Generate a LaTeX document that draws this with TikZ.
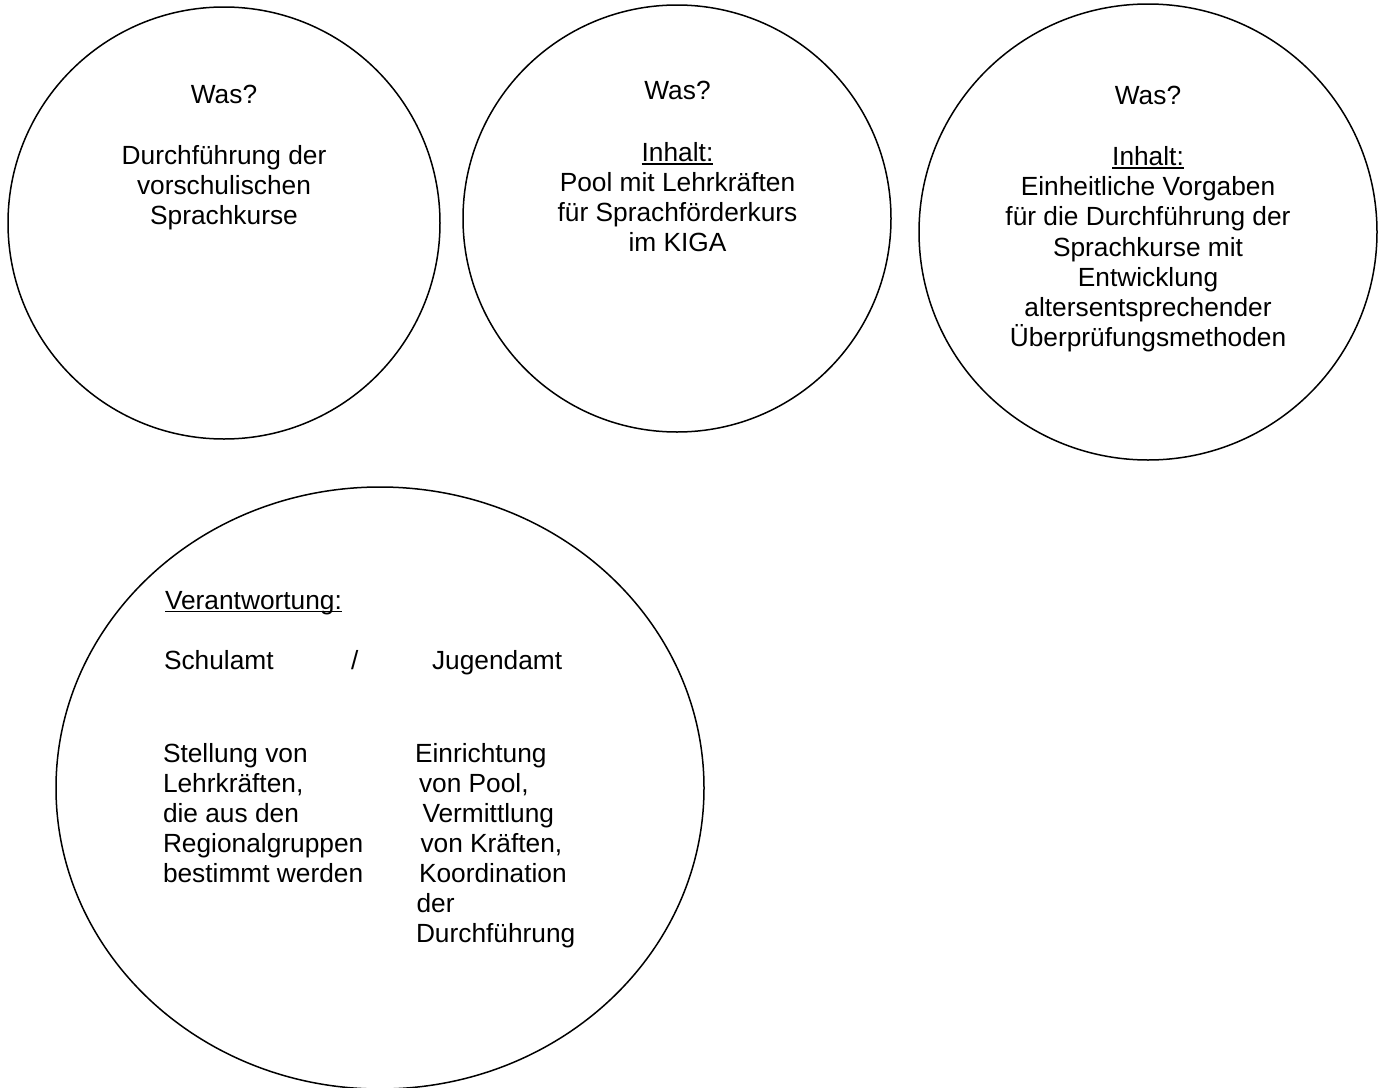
\documentclass[tikz,border=0pt]{standalone}
\usepackage{fontspec}
\setmainfont{Liberation Sans}
\usetikzlibrary{shapes.geometric}
\newcommand\ulbox[1]{\setbox0=\hbox{#1}\rlap{\rule[-3.3pt]{\wd0}{1.5pt}}\box0}
\tikzset{
  bubble/.style={ellipse, draw=black, line width=1.5pt, inner sep=0pt, outer sep=0pt},
  txt/.style={anchor=base, inner sep=0pt, outer sep=0pt, font=\fontsize{26.3pt}{30.3pt}\selectfont},
  txtl/.style={txt, anchor=base west}
}
\begin{document}
\begin{tikzpicture}[x=1pt, y=-1pt]
\useasboundingbox (0,0) rectangle (1384,1087);
\clip (0,0) rectangle (1384,1087);
% circles
\node[bubble, minimum width=432pt, minimum height=432pt] (c1) at (224,223) {};
\node[bubble, minimum width=428pt, minimum height=427pt] (c2) at (677,218.5) {};
\node[bubble, minimum width=458pt, minimum height=456pt] (c3) at (1148,232) {};
\node[bubble, minimum width=648pt, minimum height=602pt] (c4) at (380,788) {};
% circle 1
\node[txt] (a1) at (224,103.3) {Was?};
\node[txt] (a2) at (224,164) {Durchführung der};
\node[txt] (a3) at (224,194.5) {vorschulischen};
\node[txt] (a4) at (224,224.8) {Sprachkurse};
% circle 2
\node[txt] (b1) at (677.5,99.5) {Was?};
\node[txt] (b2) at (677.5,161.5) {\ulbox{Inhalt:}};
\node[txt] (b3) at (677.5,191.7) {Pool mit Lehrkräften};
\node[txt] (b4) at (677.5,221.8) {für Sprachförderkurs};
\node[txt] (b5) at (677.5,251.8) {im KIGA};
% circle 3
\node[txt] (d1) at (1148,104) {Was?};
\node[txt] (d2) at (1148,165.5) {\ulbox{Inhalt:}};
\node[txt] (d3) at (1148,195.7) {Einheitliche Vorgaben};
\node[txt] (d4) at (1148,225.9) {für die Durchführung der};
\node[txt] (d5) at (1148,256.1) {Sprachkurse mit};
\node[txt] (d6) at (1148,286.3) {Entwicklung};
\node[txt] (d7) at (1148,316.5) {altersentsprechender};
\node[txt] (d8) at (1148,346.7) {Überprüfungsmethoden};
% bottom circle
\node[txtl] (e0) at (165,609) {\ulbox{Verantwortung:}};
\node[txtl] (e1) at (164,669) {Schulamt};
\node[txtl] (e2) at (351,669) {/};
\node[txtl] (e3) at (432,669) {Jugendamt};
\node[txtl] (l1) at (163,762) {Stellung von};
\node[txtl] (l2) at (163,792) {Lehrkräften,};
\node[txtl] (l3) at (163,822) {die aus den};
\node[txtl] (l4) at (163,852) {Regionalgruppen};
\node[txtl] (l5) at (163,882) {bestimmt werden};
\node[txtl] (r1) at (415,762) {Einrichtung};
\node[txtl] (r2) at (419,792) {von Pool,};
\node[txtl] (r3) at (422.5,822) {Vermittlung};
\node[txtl] (r4) at (420.5,852) {von Kräften,};
\node[txtl] (r5) at (419,882) {Koordination};
\node[txtl] (r6) at (416.5,912) {der};
\node[txtl] (r7) at (416,942) {Durchführung};
\end{tikzpicture}
\end{document}
